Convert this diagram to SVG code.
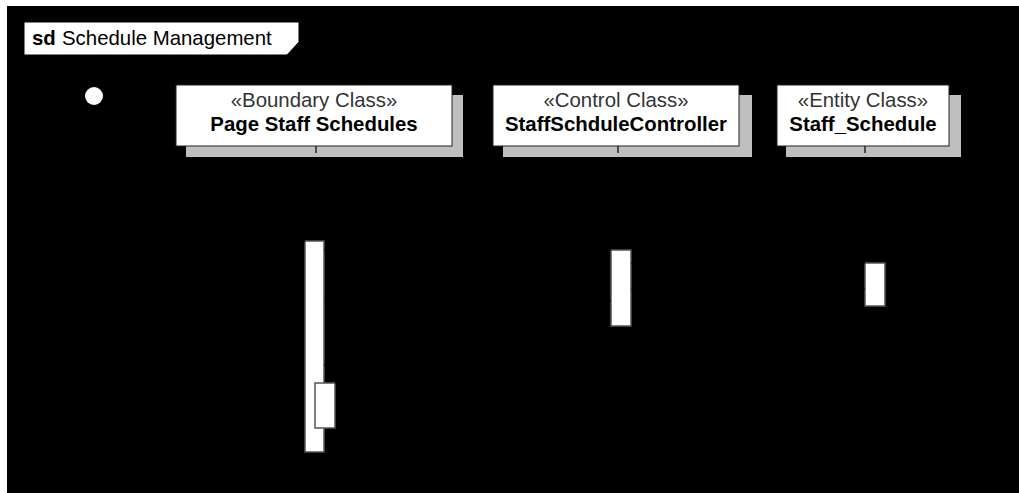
<svg xmlns="http://www.w3.org/2000/svg" width="1019" height="493" viewBox="0 0 1019 493">
  <style>
    .t { font-family: "Liberation Sans", Arial, sans-serif; font-size: 20.4px; fill: #000; }
    .b { font-weight: bold; }
    .stereo { fill: #333; }
    .head { fill: #fff; stroke: #222; stroke-width: 1; }
    .shadow { fill: #bfbfbf; }
    .life { stroke: #000; stroke-width: 1.2; stroke-dasharray: 7 5; fill: none; }
    .act { fill: #fff; stroke: #555; stroke-width: 1.5; }
    .msg { stroke: #000; stroke-width: 1; fill: none; }
  </style>
  <defs>
    <marker id="arr" viewBox="0 0 10 10" refX="10" refY="5" markerWidth="8" markerHeight="8" orient="auto">
      <path d="M0,0 L10,5 L0,10 z" fill="#000"/>
    </marker>
  </defs>
  <rect x="0" y="0" width="1019" height="493" fill="#fff"/>
  <rect x="7" y="6" width="1012" height="487" fill="#000"/>

  <g id="frame">
    <rect x="24" y="22" width="976" height="455" fill="none" stroke="#000"/>
    <path d="M24,22 L299,22 L299,42 L287,55 L24,55 Z" fill="#fff" stroke="#000" stroke-width="1"/>
    <text x="32" y="45" class="t b">sd</text>
    <text x="62" y="45" class="t">Schedule Management</text>
  </g>

  <g id="initial">
    <circle cx="94" cy="96" r="9" fill="#fff"/>
  </g>

  <g id="lifeline-page">
    <rect x="186" y="95" width="277" height="62" class="shadow"/>
    <rect x="176" y="85" width="276" height="61" class="head"/>
    <text x="314" y="107" text-anchor="middle" class="t stereo">«Boundary Class»</text>
    <text x="314" y="131" text-anchor="middle" class="t b">Page Staff Schedules</text>
    <line x1="316" y1="146" x2="316" y2="470" class="life"/>
  </g>

  <g id="lifeline-controller">
    <rect x="503" y="95" width="249" height="62" class="shadow"/>
    <rect x="493" y="85" width="246" height="61" class="head"/>
    <text x="616" y="107" text-anchor="middle" class="t stereo">«Control Class»</text>
    <text x="616" y="131" text-anchor="middle" class="t b">StaffSchduleController</text>
    <line x1="618" y1="146" x2="618" y2="470" class="life"/>
  </g>

  <g id="lifeline-entity">
    <rect x="786" y="95" width="175" height="62" class="shadow"/>
    <rect x="777" y="85" width="172" height="61" class="head"/>
    <text x="863" y="107" text-anchor="middle" class="t stereo">«Entity Class»</text>
    <text x="863" y="131" text-anchor="middle" class="t b">Staff_Schedule</text>
    <line x1="865" y1="146" x2="865" y2="470" class="life"/>
  </g>

  <g id="activations">
    <rect x="305" y="241" width="19" height="211" class="act"/>
    <rect x="611" y="250" width="20" height="76" class="act"/>
    <rect x="865" y="263" width="20" height="43" class="act"/>
    <rect x="315" y="383" width="20" height="45" class="act" stroke="#333" stroke-width="2"/>
  </g>

  <g id="connectors">
    <line x1="103" y1="241" x2="305" y2="241" class="msg" marker-end="url(#arr)"/>
    <line x1="324" y1="250" x2="611" y2="250" class="msg" marker-end="url(#arr)"/>
    <line x1="631" y1="263" x2="865" y2="263" class="msg" marker-end="url(#arr)"/>
    <line x1="865" y1="289" x2="631" y2="289" class="msg" stroke-dasharray="5 4" marker-end="url(#arr)"/>
    <line x1="611" y1="301" x2="324" y2="301" class="msg" stroke-dasharray="5 4" marker-end="url(#arr)"/>
    <path d="M324,365 L360,365 L360,383 L335,383" class="msg" marker-end="url(#arr)"/>
  </g>
</svg>
